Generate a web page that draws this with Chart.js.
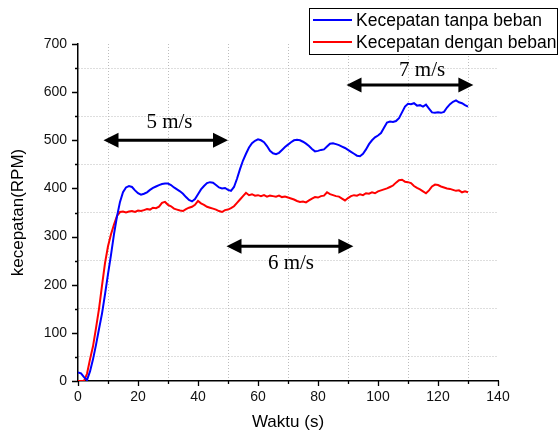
<!DOCTYPE html>
<html>
<head>
<meta charset="utf-8">
<script src="https://cdn.jsdelivr.net/npm/chart.js@4.4.0/dist/chart.umd.min.js"></script>
<style>
  html, body { margin: 0; padding: 0; background: #fff; }
  #wrap { width: 560px; height: 435px; }
</style>
</head>
<body>
<div id="wrap"><canvas id="myChart" width="560" height="435"></canvas></div>
<script>
// waktu (s)
const waktu = [0,1,2,3,4,5,6,7,8,9,10,11,12,13,14,15,16,17,18,19,20,21,22,23,24,25,26,27,28,29,
  30,31,32,33,34,35,36,37,38,39,40,41,42,43,44,45,46,47,48,49,50,51,52,53,54,55,56,57,58,59,
  60,61,62,63,64,65,66,67,68,69,70,71,72,73,74,75,76,77,78,79,80,81,82,83,84,85,86,87,88,89,
  90,91,92,93,94,95,96,97,98,99,100,101,102,103,104,105,106,107,108,109,110,111,112,113,114,115,116,117,118,119,
  120,121,122,123,124,125,126,127,128,129,130];

// Kecepatan tanpa beban (RPM)
const tanpaBeban = [18,16,8,2,20,45,75,108,140,180,222,262,305,342,372,392,402,405,403,396,
  390,387,389,392,397,401,404,407,409,410,410,407,402,398,394,389,382,376,373,378,
  388,398,405,411,413,412,407,402,400,401,397,395,403,420,440,458,472,485,494,499,
  502,500,496,488,478,473,471,474,480,486,491,496,500,501,500,497,493,488,482,477,
  478,480,481,487,493,494,492,490,487,484,480,476,472,468,467,472,481,492,500,506,
  510,515,526,537,539,538,540,546,558,570,576,575,577,572,573,570,574,566,558,557,
  558,557,559,568,575,580,583,579,577,573,570];

// Kecepatan dengan beban (RPM)
const denganBeban = [0,0,0,15,45,72,110,150,198,245,280,305,325,343,351,352,350,352,353,351,
  354,353,355,357,356,360,359,362,370,372,366,363,358,356,354,353,357,360,362,366,
  374,369,366,362,360,358,356,353,351,355,356,359,363,370,377,384,391,386,388,385,
  386,384,386,383,385,384,383,385,382,383,381,379,377,374,372,373,371,375,379,382,
  381,384,385,392,388,386,384,383,379,375,380,384,386,385,388,386,390,389,392,390,
  394,396,398,400,403,406,412,417,418,414,413,411,405,401,398,394,390,396,404,408,
  407,404,402,400,399,397,395,396,392,394,392];

const seriesNames = ['Kecepatan tanpa beban', 'Kecepatan dengan beban'];

// annotasi panah (koordinat data)
const arrowLabels = ['5 m/s', '6 m/s', '7 m/s'];
const arrowFrom = [8.5, 49.5, 89.5];
const arrowTo = [50, 91.8, 131.8];
const arrowY = [500, 280, 615];
const labelX = [30.5, 71, 114.7];
const labelY = [538, 245, 646];

function toPoints(ys) {
  return ys.map((y, i) => ({ x: waktu[i], y: y }));
}

const decorPlugin = {
  id: 'decor',
  afterDraw(chart) {
    const ctx = chart.ctx;
    const xs = chart.scales.x, ys = chart.scales.y;
    const area = chart.chartArea;

    // tick marks keluar
    ctx.save();
    ctx.strokeStyle = '#000';
    ctx.lineWidth = 1.3;
    ctx.beginPath();
    xs.ticks.forEach(t => {
      const px = Math.round(xs.getPixelForValue(t.value)) + 0.5;
      const len = t.value % 20 === 0 ? 5 : 3;
      ctx.moveTo(px, area.bottom);
      ctx.lineTo(px, area.bottom + len);
    });
    ys.ticks.forEach(t => {
      const py = Math.round(ys.getPixelForValue(t.value)) + 0.5;
      const len = t.value % 100 === 0 ? 6 : 3;
      ctx.moveTo(area.left, py);
      ctx.lineTo(area.left - len, py);
    });
    ctx.stroke();
    ctx.restore();

    // panah dua arah
    ctx.save();
    ctx.fillStyle = '#000';
    ctx.strokeStyle = '#000';
    ctx.lineWidth = 3;
    for (let i = 0; i < arrowLabels.length; i++) {
      const x0 = xs.getPixelForValue(arrowFrom[i]);
      const x1 = xs.getPixelForValue(arrowTo[i]);
      const y = ys.getPixelForValue(arrowY[i]);
      const hl = 15, hw = 7.5;
      ctx.beginPath();
      ctx.moveTo(x0 + hl - 2, y);
      ctx.lineTo(x1 - hl + 2, y);
      ctx.stroke();
      ctx.beginPath();
      ctx.moveTo(x0, y);
      ctx.lineTo(x0 + hl, y - hw);
      ctx.lineTo(x0 + hl, y + hw);
      ctx.closePath();
      ctx.fill();
      ctx.beginPath();
      ctx.moveTo(x1, y);
      ctx.lineTo(x1 - hl, y - hw);
      ctx.lineTo(x1 - hl, y + hw);
      ctx.closePath();
      ctx.fill();

      ctx.font = '21px "Liberation Serif", "Times New Roman", serif';
      ctx.textAlign = 'center';
      ctx.textBaseline = 'middle';
      ctx.fillText(arrowLabels[i], xs.getPixelForValue(labelX[i]), ys.getPixelForValue(labelY[i]));
    }
    ctx.restore();

    // legenda
    ctx.save();
    const bx = 309.5, by = 8.5, bw = 248, bh = 46;
    ctx.fillStyle = '#fff';
    ctx.fillRect(bx, by, bw, bh);
    ctx.strokeStyle = '#000';
    ctx.lineWidth = 1;
    ctx.strokeRect(bx, by, bw, bh);
    const rows = [20, 42];
    ctx.font = '17.5px "Liberation Sans", Arial, sans-serif';
    ctx.textAlign = 'left';
    ctx.textBaseline = 'middle';
    chart.data.datasets.forEach((ds, i) => {
      ctx.strokeStyle = ds.borderColor;
      ctx.lineWidth = 1.8;
      ctx.beginPath();
      ctx.moveTo(313, rows[i]);
      ctx.lineTo(352, rows[i]);
      ctx.stroke();
      ctx.fillStyle = '#000';
      ctx.fillText(ds.label, 356, rows[i] + 1);
    });
    ctx.restore();
  }
};

const ctx = document.getElementById('myChart').getContext('2d');
const myChart = new Chart(ctx, {
  type: 'line',
  data: {
    datasets: [{
      label: seriesNames[0],
      data: toPoints(tanpaBeban),
      borderColor: '#0000ff',
      borderWidth: 2,
      pointRadius: 0,
      tension: 0
    }, {
      label: seriesNames[1],
      data: toPoints(denganBeban),
      borderColor: '#ff0000',
      borderWidth: 2,
      pointRadius: 0,
      tension: 0
    }]
  },
  options: {
    responsive: false,
    animation: false,
    layout: { padding: { top: 44, right: 62, left: 0, bottom: 0 } },
    plugins: { legend: { display: false }, tooltip: { enabled: false } },
    scales: {
      x: {
        type: 'linear',
        min: 0, max: 140,
        afterFit(scale) { scale.height = 54; },
        ticks: {
          stepSize: 10,
          autoSkip: false,
          maxRotation: 0,
          padding: 8,
          color: '#111',
          font: { family: '"Liberation Sans", Arial, sans-serif', size: 14 },
          callback: v => (v % 20 === 0 ? v : '')
        },
        grid: {
          drawTicks: false,
          lineWidth: 1,
          color: c => (c.tick && c.tick.value % 20 === 10 ? '#bdbdbd' : 'rgba(0,0,0,0)')
        },
        border: { display: true, color: '#000', width: 1.5, dash: [1, 2] },
        title: {
          display: true,
          text: 'Waktu (s)',
          color: '#000',
          font: { family: '"Liberation Sans", Arial, sans-serif', size: 17 },
          padding: { top: 0, bottom: 2 }
        }
      },
      y: {
        min: 0, max: 700,
        afterFit(scale) { scale.width = 78; },
        ticks: {
          stepSize: 50,
          autoSkip: false,
          padding: 11,
          color: '#111',
          font: { family: '"Liberation Sans", Arial, sans-serif', size: 14 },
          callback: v => (v % 100 === 0 ? v : '')
        },
        grid: {
          drawTicks: false,
          lineWidth: 1,
          color: c => (c.tick && c.tick.value % 100 === 50 ? '#bdbdbd' : 'rgba(0,0,0,0)')
        },
        border: { display: true, color: '#000', width: 1.5, dash: [1, 2] },
        title: {
          display: true,
          text: 'kecepatan(RPM)',
          color: '#000',
          font: { family: '"Liberation Sans", Arial, sans-serif', size: 17 },
          padding: { top: 8, bottom: 0 }
        }
      }
    }
  },
  plugins: [decorPlugin]
});
</script>
</body>
</html>
